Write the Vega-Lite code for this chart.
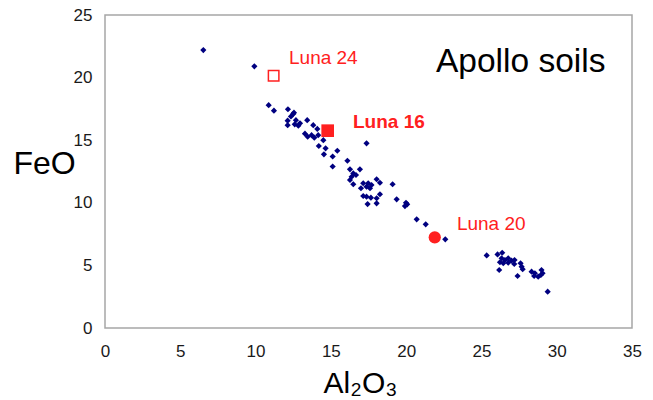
{
  "$schema": "https://vega.github.io/schema/vega-lite/v6.json",
  "width": 527,
  "height": 313,
  "autosize": "none",
  "padding": {"left": 105, "top": 15, "right": 21, "bottom": 72},
  "background": "white",
  "config": {
    "font": "Liberation Sans",
    "view": {"stroke": "#a6a6a6", "strokeWidth": 1.5}
  },
  "datasets": {
    "soils": [
      {"Al2O3": 6.53, "FeO": 22.2}, {"Al2O3": 9.92, "FeO": 20.9},
      {"Al2O3": 10.87, "FeO": 17.8}, {"Al2O3": 11.22, "FeO": 17.36},
      {"Al2O3": 12.15, "FeO": 17.47}, {"Al2O3": 12.5, "FeO": 17.1},
      {"Al2O3": 12.55, "FeO": 17.2}, {"Al2O3": 12.35, "FeO": 16.9},
      {"Al2O3": 12.13, "FeO": 16.56}, {"Al2O3": 12.13, "FeO": 16.2},
      {"Al2O3": 12.6, "FeO": 16.27}, {"Al2O3": 12.84, "FeO": 16.16},
      {"Al2O3": 12.95, "FeO": 16.35}, {"Al2O3": 12.68, "FeO": 16.6},
      {"Al2O3": 13.43, "FeO": 16.6}, {"Al2O3": 13.83, "FeO": 16.2},
      {"Al2O3": 14.1, "FeO": 15.9}, {"Al2O3": 13.28, "FeO": 15.52},
      {"Al2O3": 13.46, "FeO": 15.28}, {"Al2O3": 13.72, "FeO": 15.4},
      {"Al2O3": 13.9, "FeO": 15.2}, {"Al2O3": 14.16, "FeO": 15.4},
      {"Al2O3": 14.5, "FeO": 15.0}, {"Al2O3": 14.2, "FeO": 14.54},
      {"Al2O3": 14.65, "FeO": 14.35}, {"Al2O3": 14.54, "FeO": 13.87},
      {"Al2O3": 15.43, "FeO": 14.16}, {"Al2O3": 15.12, "FeO": 13.7},
      {"Al2O3": 15.12, "FeO": 12.9}, {"Al2O3": 16.1, "FeO": 13.36},
      {"Al2O3": 17.37, "FeO": 14.75}, {"Al2O3": 16.27, "FeO": 12.67},
      {"Al2O3": 16.93, "FeO": 12.67}, {"Al2O3": 16.49, "FeO": 12.35},
      {"Al2O3": 16.38, "FeO": 12.08}, {"Al2O3": 16.67, "FeO": 12.22},
      {"Al2O3": 16.27, "FeO": 11.82}, {"Al2O3": 16.49, "FeO": 11.48},
      {"Al2O3": 17.15, "FeO": 11.56}, {"Al2O3": 17.48, "FeO": 11.56},
      {"Al2O3": 17.0, "FeO": 11.16}, {"Al2O3": 17.37, "FeO": 11.29},
      {"Al2O3": 17.7, "FeO": 11.42}, {"Al2O3": 18.04, "FeO": 11.88},
      {"Al2O3": 18.26, "FeO": 11.6}, {"Al2O3": 17.6, "FeO": 11.16},
      {"Al2O3": 19.1, "FeO": 11.48}, {"Al2O3": 17.15, "FeO": 10.54},
      {"Al2O3": 17.37, "FeO": 10.49}, {"Al2O3": 17.66, "FeO": 10.41},
      {"Al2O3": 18.26, "FeO": 10.68}, {"Al2O3": 18.04, "FeO": 10.36},
      {"Al2O3": 17.44, "FeO": 9.9}, {"Al2O3": 18.04, "FeO": 9.96},
      {"Al2O3": 19.37, "FeO": 10.28}, {"Al2O3": 19.99, "FeO": 10.0},
      {"Al2O3": 19.92, "FeO": 9.74}, {"Al2O3": 20.07, "FeO": 9.88},
      {"Al2O3": 20.7, "FeO": 8.68}, {"Al2O3": 21.3, "FeO": 8.28},
      {"Al2O3": 22.6, "FeO": 7.08},
      {"Al2O3": 25.35, "FeO": 5.8}, {"Al2O3": 26.07, "FeO": 5.88},
      {"Al2O3": 26.38, "FeO": 6.01}, {"Al2O3": 26.34, "FeO": 5.57},
      {"Al2O3": 26.56, "FeO": 5.43}, {"Al2O3": 26.78, "FeO": 5.57},
      {"Al2O3": 27.0, "FeO": 5.38}, {"Al2O3": 26.23, "FeO": 5.25},
      {"Al2O3": 26.45, "FeO": 5.17}, {"Al2O3": 26.78, "FeO": 5.22},
      {"Al2O3": 27.18, "FeO": 5.11}, {"Al2O3": 27.2, "FeO": 5.43},
      {"Al2O3": 26.18, "FeO": 4.63}, {"Al2O3": 27.4, "FeO": 4.15},
      {"Al2O3": 27.6, "FeO": 5.17}, {"Al2O3": 27.67, "FeO": 4.9},
      {"Al2O3": 27.74, "FeO": 4.69}, {"Al2O3": 28.33, "FeO": 4.5},
      {"Al2O3": 28.55, "FeO": 4.37}, {"Al2O3": 28.5, "FeO": 4.15},
      {"Al2O3": 28.77, "FeO": 4.1}, {"Al2O3": 28.99, "FeO": 4.63},
      {"Al2O3": 29.06, "FeO": 4.37}, {"Al2O3": 28.95, "FeO": 4.23},
      {"Al2O3": 29.4, "FeO": 2.9}
    ],
    "luna": [
      {"sample": "Luna 24", "Al2O3": 11.2, "FeO": 20.15},
      {"sample": "Luna 16", "Al2O3": 14.79, "FeO": 15.76},
      {"sample": "Luna 20", "Al2O3": 21.9, "FeO": 7.24}
    ],
    "labels": [
      {"text": "Luna 24", "Al2O3": 12.22, "FeO": 21.57},
      {"text": "Luna 16", "Al2O3": 16.47, "FeO": 16.45},
      {"text": "Luna 20", "Al2O3": 23.37, "FeO": 8.31},
      {"text": "Apollo soils", "Al2O3": 21.98, "FeO": 21.25}
    ]
  },
  "encoding": {
    "x": {
      "field": "Al2O3", "type": "quantitative",
      "scale": {"domain": [0, 35], "nice": false, "zero": false},
      "axis": {
        "title": "Al₂O₃", "values": [0, 5, 10, 15, 20, 25, 30, 35],
        "domain": false, "ticks": false, "grid": false,
        "labelFontSize": 17, "labelColor": "#1a1a1a", "labelPadding": 15,
        "labelFlush": false,
        "titleFontSize": 30, "titleFontWeight": "normal", "titleColor": "#000",
        "titleX": 255, "titleY": 64, "titleBaseline": "alphabetic", "titleAlign": "center"
      }
    },
    "y": {
      "field": "FeO", "type": "quantitative",
      "scale": {"domain": [0, 25], "nice": false, "zero": false},
      "axis": {
        "title": "FeO", "values": [0, 5, 10, 15, 20, 25],
        "domain": false, "ticks": false, "grid": false,
        "labelFontSize": 17, "labelColor": "#1a1a1a", "labelPadding": 13,
        "labelFlush": false,
        "titleFontSize": 32, "titleFontWeight": "normal", "titleColor": "#000",
        "titleAngle": 0, "titleX": -61, "titleY": 158,
        "titleBaseline": "alphabetic", "titleAlign": "center"
      }
    }
  },
  "layer": [
    {
      "data": {"name": "soils"},
      "mark": {"type": "point", "shape": "diamond", "filled": true, "color": "#000080", "size": 38, "opacity": 1}
    },
    {
      "data": {"name": "luna"},
      "transform": [{"filter": "datum.sample === 'Luna 24'"}],
      "mark": {"type": "point", "shape": "square", "filled": false, "stroke": "#ff2020", "strokeWidth": 1.5, "size": 110, "opacity": 1}
    },
    {
      "data": {"name": "luna"},
      "transform": [{"filter": "datum.sample === 'Luna 16'"}],
      "mark": {"type": "point", "shape": "square", "filled": true, "color": "#ff2020", "size": 160, "opacity": 1}
    },
    {
      "data": {"name": "luna"},
      "transform": [{"filter": "datum.sample === 'Luna 20'"}],
      "mark": {"type": "point", "shape": "circle", "filled": true, "color": "#ff2020", "size": 150, "opacity": 1}
    },
    {
      "data": {"name": "labels"},
      "transform": [{"filter": "datum.text === 'Luna 24' || datum.text === 'Luna 20'"}],
      "mark": {"type": "text", "align": "left", "baseline": "middle", "fontSize": 19, "color": "#ff2020"},
      "encoding": {"text": {"field": "text"}}
    },
    {
      "data": {"name": "labels"},
      "transform": [{"filter": "datum.text === 'Luna 16'"}],
      "mark": {"type": "text", "align": "left", "baseline": "middle", "fontSize": 19, "fontWeight": "bold", "color": "#ff2020"},
      "encoding": {"text": {"field": "text"}}
    },
    {
      "data": {"name": "labels"},
      "transform": [{"filter": "datum.text === 'Apollo soils'"}],
      "mark": {"type": "text", "align": "left", "baseline": "middle", "fontSize": 33.5, "color": "#000"},
      "encoding": {"text": {"field": "text"}}
    }
  ]
}
